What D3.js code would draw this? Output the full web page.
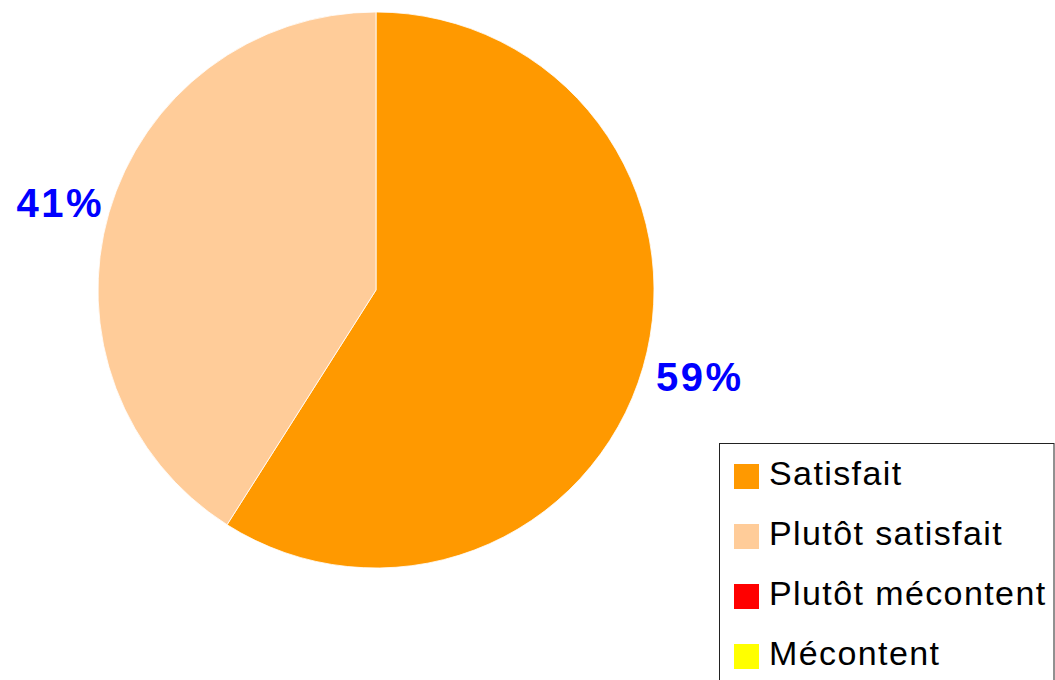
<!DOCTYPE html>
<html>
<head>
<meta charset="utf-8">
<script src="https://cdn.jsdelivr.net/npm/d3@7"></script>
<style>
  html, body { margin: 0; padding: 0; background: #fff; overflow: hidden; }
  svg { display: block; }
</style>
</head>
<body>
<svg id="chart" width="1055" height="680"></svg>
<script>
const categories = ["Satisfait", "Plutôt satisfait", "Plutôt mécontent", "Mécontent"];
const values = [59, 41, 0, 0];
const colors = ["#FF9900", "#FFCC99", "#FF0000", "#FFFF00"];

const data = categories.map((c, i) => ({ name: c, value: values[i], color: colors[i] }));

const svg = d3.select("#chart");
const cx = 376, cy = 290, radius = 278;

const pie = d3.pie().value(d => d.value).sort(null);
const arcs = pie(data);
const arc = d3.arc().innerRadius(0).outerRadius(radius);

const g = svg.append("g").attr("transform", `translate(${cx},${cy})`);
g.selectAll("path.slice")
  .data(arcs.filter(a => a.data.value > 0))
  .join("path")
  .attr("class", "slice")
  .attr("d", arc)
  .attr("fill", d => d.data.color)
  .attr("stroke", "#ffffff")
  .attr("stroke-width", 0.8);

const total = d3.sum(values);
g.selectAll("text.pct")
  .data(arcs.filter(a => a.data.value > 0))
  .join("text")
  .attr("class", "pct")
  .attr("x", d => Math.sin((d.startAngle + d.endAngle) / 2) * 333)
  .attr("y", d => -Math.cos((d.startAngle + d.endAngle) / 2) * 312)
  .attr("dx", 4)
  .attr("dy", "0.36em")
  .attr("text-anchor", "middle")
  .attr("font-family", "Liberation Sans, Arial, sans-serif")
  .attr("font-weight", "bold")
  .attr("font-size", 40)
  .attr("letter-spacing", 2.5)
  .attr("fill", "#0000FF")
  .text(d => Math.round(d.data.value / total * 100) + "%");

// Legend
const lx = 719.5, ly = 443.5;
const legend = svg.append("g");
legend.append("rect")
  .attr("x", lx).attr("y", ly)
  .attr("width", 1054 - lx).attr("height", 300)
  .attr("fill", "#fff").attr("stroke", "#222").attr("stroke-width", 1);

const ly0 = d3.scalePoint().domain(categories).range([464, 644]);
const item = legend.selectAll("g.item").data(data).join("g").attr("class", "item")
  .attr("transform", d => `translate(0,${ly0(d.name)})`);
item.append("rect")
  .attr("x", 734).attr("y", 0).attr("width", 25).attr("height", 25)
  .attr("fill", d => d.color);
item.append("text")
  .attr("x", 769).attr("y", 21)
  .attr("font-family", "Liberation Sans, Arial, sans-serif")
  .attr("font-size", 34)
  .attr("letter-spacing", 1.4)
  .attr("fill", "#000")
  .text(d => d.name);
</script>
</body>
</html>
